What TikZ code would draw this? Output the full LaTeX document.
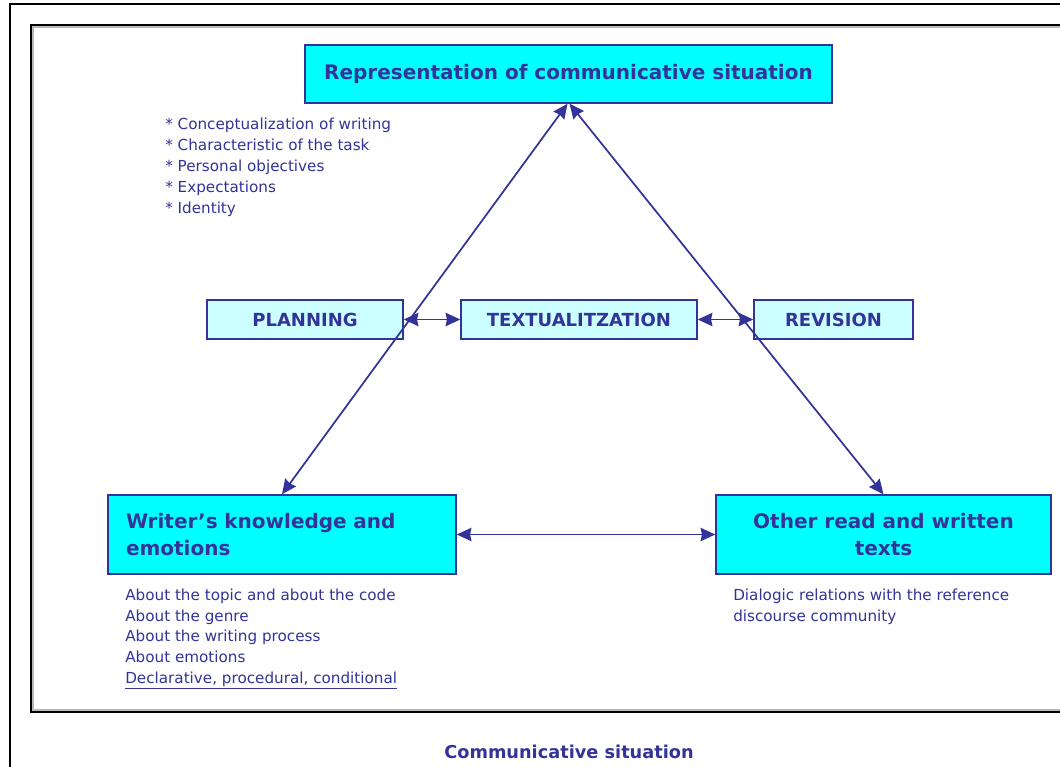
\documentclass[tikz,border=0pt]{standalone}
\usepackage{fontspec}
\setmainfont{DejaVu Sans}
\usetikzlibrary{arrows.meta}
\definecolor{inkblue}{RGB}{51,51,153}
\definecolor{boxcyan}{RGB}{0,255,255}
\definecolor{boxpale}{RGB}{204,255,255}

\begin{document}
\begin{tikzpicture}[x=0.75pt,y=0.75pt,yscale=-1,xscale=1,
  bigbox/.style={draw=inkblue,line width=1.1pt,fill=boxcyan,text=inkblue,inner sep=0pt,font=\fontsize{15}{20.25}\bfseries\selectfont},
  stagebox/.style={draw=inkblue,line width=1.1pt,fill=boxpale,text=inkblue,inner sep=0pt,minimum height=29.25pt,font=\fontsize{13.5}{16}\bfseries\selectfont},
  note/.style={text=inkblue,inner sep=0pt,anchor=north west,align=left,font=\fontsize{11.4}{15.6}\selectfont},
  link/.style={draw=inkblue,line width=1.3pt,{Stealth[length=11pt,width=10pt,inset=1pt]}-{Stealth[length=11pt,width=10pt,inset=1pt]}}]
\clip (0,0) rectangle (1060,767);
\fill [white] (0,0) rectangle (1060,767);

%Shape: Rectangle [outer frame]
\draw [line width=1.5pt] (10,4) rectangle (1085,795);
%Shape: Rectangle [inner frame]
\draw [gray!55,line width=1pt] (33,27) rectangle (1085,710);
\draw [line width=1pt] (31,25) rectangle (1085,712);

%Shape: Rectangle [representation]
\draw (568.5,74) node [bigbox,minimum width=395.25pt,minimum height=43.5pt] (rep) {Representation of communicative situation};
%Shape: Rectangle [planning]
\draw (305,319.5) node [stagebox,minimum width=147pt] (plan) {PLANNING};
%Shape: Rectangle [textualitzation]
\draw (579,319.5) node [stagebox,minimum width=177pt] (textu) {TEXTUALITZATION};
%Shape: Rectangle [revision]
\draw (833.5,319.5) node [stagebox,minimum width=119.25pt] (rev) {REVISION};
%Shape: Rectangle [writer]
\draw (282,534.5) node [bigbox,minimum width=261pt,minimum height=59.25pt,text width=234pt,align=left] (know) {Writer’s knowledge and\\emotions};
%Shape: Rectangle [other texts]
\draw (883.5,534.5) node [bigbox,minimum width=251.25pt,minimum height=59.25pt,align=center] (texts) {Other read and written\\texts};

%Straight Lines
\draw [link] ([xshift=-0.75pt]rep.south) -- (know.north);
%Straight Lines
\draw [link] ([xshift=0.75pt]rep.south) -- (texts.north);
%Straight Lines
\draw [link] (plan) -- (textu);
%Straight Lines
\draw [link] (textu) -- (rev);
%Straight Lines
\draw [link] (know) -- (texts);

% Text Node
\draw (165,118) node [note] (aims) {* Conceptualization of writing\\* Characteristic of the task\\* Personal objectives\\* Expectations\\* Identity};
% Text Node
\draw (125,588.5) node [note] (kinds) {About the topic and about the code\\About the genre\\About the writing process\\About emotions\\\underline{Declarative, procedural, conditional}};
% Text Node
\draw (733,588.5) node [note] (dialog) {Dialogic relations with the reference\\discourse community};
% Text Node
\draw (569,752) node [text=inkblue,font=\fontsize{13.3}{16}\bfseries\selectfont] (caption) {Communicative situation};

\end{tikzpicture}
\end{document}
